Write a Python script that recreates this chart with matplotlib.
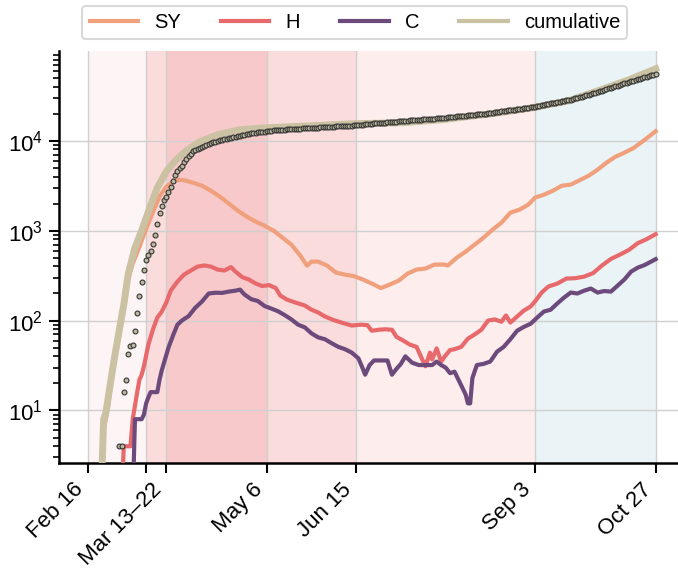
import matplotlib
matplotlib.use("Agg")
import matplotlib.pyplot as plt
import pandas as pd

plt.rcParams['font.family'] = ['Liberation Sans', 'DejaVu Sans']
plt.rcParams['mathtext.default'] = 'regular'
plt.rcParams['font.size'] = 16

# ---- data ----
sy_dates = ['02-22', '02-23', '02-25', '02-27', '03-01', '03-04', '03-07', '03-10', '03-13', '03-16',
            '03-19', '03-22', '03-25', '03-28', '03-31', '04-03', '04-07', '04-11', '04-15', '04-19',
            '04-23', '04-27', '05-01', '05-05', '05-09', '05-13', '05-17', '05-21', '05-24', '05-26',
            '05-29', '06-02', '06-06', '06-10', '06-14', '06-18', '06-22', '06-26', '06-30', '07-04',
            '07-08', '07-12', '07-16', '07-20', '07-24', '07-26', '07-30', '08-03', '08-07', '08-11',
            '08-15', '08-19', '08-23', '08-27', '08-31', '09-03', '09-07', '09-11', '09-15', '09-19',
            '09-23', '09-27', '10-01', '10-05', '10-09', '10-13', '10-17', '10-21', '10-27']
sy_vals = [2, 6, 11, 30, 68, 240, 430, 660, 1050, 1600,
           2390, 3080, 3500, 3690, 3590, 3410, 3160, 2780, 2390, 2000,
           1670, 1430, 1260, 1135, 1000, 836, 698, 527, 408, 453,
           453, 408, 341, 324, 312, 286, 258, 230, 251, 278,
           333, 369, 379, 419, 420, 410, 500, 585, 698, 836,
           1025, 1228, 1585, 1710, 1945, 2330, 2510, 2780, 3160, 3250,
           3640, 4080, 4760, 5700, 6640, 7360, 8260, 9750, 12750]

h_dates = ['03-02', '03-03', '03-06', '03-07', '03-09', '03-10', '03-11', '03-12', '03-14', '03-16',
           '03-18', '03-20', '03-22', '03-24', '03-27', '03-30', '04-02', '04-05', '04-08', '04-11',
           '04-14', '04-17', '04-20', '04-22', '04-25', '04-28', '05-01', '05-04', '05-07', '05-10',
           '05-12', '05-15', '05-19', '05-23', '05-26', '05-29', '06-01', '06-05', '06-09', '06-13',
           '06-17', '06-20', '06-22', '06-25', '06-28', '07-01', '07-03', '07-06', '07-09', '07-12',
           '07-15', '07-16', '07-18', '07-19', '07-21', '07-23', '07-25', '07-27', '07-29', '08-01',
           '08-04', '08-07', '08-10', '08-13', '08-16', '08-19', '08-21', '08-23', '08-26', '08-29',
           '09-01', '09-03', '09-06', '09-09', '09-13', '09-17', '09-21', '09-25', '09-29', '10-03',
           '10-07', '10-11', '10-15', '10-19', '10-23', '10-27']
h_vals = [1, 4, 4, 8, 16, 22, 25, 31, 54, 79,
          108, 126, 158, 215, 271, 325, 360, 398, 410, 398,
          369, 360, 393, 350, 304, 286, 258, 242, 248, 230,
          190, 171, 158, 147, 132, 123, 111, 101, 94, 88,
          90, 89, 77, 79, 80, 79, 66, 60, 54, 51,
          35, 31, 44, 37, 49, 35, 41, 47, 48, 51,
          63, 70, 79, 100, 103, 97, 114, 95, 111, 129,
          143, 163, 205, 239, 258, 293, 296, 308, 337, 410,
          485, 541, 610, 726, 805, 914]

c_dates = ['03-07', '03-08', '03-11', '03-12', '03-13', '03-14', '03-15', '03-18', '03-19', '03-20',
           '03-21', '03-23', '03-25', '03-27', '03-29', '04-01', '04-04', '04-07', '04-10', '04-13',
           '04-16', '04-19', '04-22', '04-24', '04-26', '04-29', '05-02', '05-05', '05-08', '05-11',
           '05-14', '05-17', '05-20', '05-23', '05-26', '05-29', '06-01', '06-04', '06-07', '06-10',
           '06-13', '06-16', '06-18', '06-19', '06-21', '06-23', '06-26', '06-29', '07-01', '07-03',
           '07-05', '07-07', '07-10', '07-13', '07-16', '07-19', '07-21', '07-23', '07-25', '07-27',
           '07-29', '08-01', '08-03', '08-04', '08-05', '08-06', '08-08', '08-11', '08-14', '08-17',
           '08-20', '08-23', '08-26', '08-29', '09-01', '09-04', '09-07', '09-10', '09-13', '09-16',
           '09-19', '09-22', '09-25', '09-28', '10-01', '10-04', '10-07', '10-10', '10-13', '10-16',
           '10-19', '10-22', '10-25', '10-27']
c_vals = [1, 8, 8, 9, 12, 14, 16, 16, 22, 28,
          34, 50, 68, 90, 100, 112, 139, 163, 200, 204,
          203, 210, 215, 221, 195, 173, 165, 145, 136, 127,
          115, 103, 90, 84, 72, 65, 62, 56, 51, 48,
          44, 38, 29, 25, 32, 36, 36, 36, 25, 29,
          33, 40, 34, 32, 32, 32, 35, 32, 30, 26,
          27, 19, 15, 12, 12, 23, 32, 33, 35, 45,
          51, 62, 77, 85, 92, 108, 126, 132, 155, 180,
          205, 200, 215, 227, 205, 213, 210, 245, 286, 350,
          388, 414, 453, 482]

cum_dates = ['02-22', '02-23', '02-24', '02-26', '02-28', '03-01', '03-03', '03-05', '03-08', '03-11',
             '03-14', '03-18', '03-22', '03-26', '03-31', '04-06', '04-14', '04-24', '05-06', '05-27',
             '06-14', '07-05', '07-23', '08-15', '09-02', '09-18', '10-02', '10-15', '10-27']
cum_vals = [1.5, 8, 9.5, 20, 41, 79, 150, 333, 647, 1000,
            1625, 3000, 4530, 5990, 7740, 9750, 11660, 13250, 13950, 14700,
            15450, 15850, 17100, 20000, 23300, 27800, 36500, 47600, 63000]

# observed cumulative, one value per day from Mar 1
obs_start = '2020-03-01'
obs_vals = [4, 4, 16, 22, 43, 52, 54, 77, 120, 186, 271, 362, 468, 541, 589, 717, 903, 1197, 1557, 1896,
            2173, 2368, 2667, 3030, 3530, 4190, 4560, 4970, 5280, 5740, 6260, 6700, 7180, 7610,
            7850, 8090, 8330, 8560, 8800, 9030,
            9250, 9420, 9600, 9780, 9940, 10100, 10250, 10400, 10560, 10700,
            10850, 10990, 11130, 11260, 11400, 11530, 11670, 11800, 11930, 12060, 12200,
            12300, 12390, 12480, 12570, 12650, 12740, 12820, 12910, 13000, 13080, 13170, 13250,
            13290, 13330, 13380, 13420, 13460, 13510, 13550, 13590, 13640, 13680, 13720, 13770, 13810, 13850, 13900,
            13950, 14000, 14050, 14100, 14150, 14200, 14250, 14300, 14350, 14400, 14450, 14500, 14550, 14600,
            14650, 14700, 14750, 14800,
            14880, 14960, 15050, 15130, 15210, 15300, 15380, 15460, 15550, 15630, 15710, 15790, 15870, 15950,
            16040, 16120, 16200,
            16270, 16350, 16420, 16500, 16570, 16650, 16720, 16800, 16870, 16950, 17020, 17100, 17170, 17250,
            17320, 17400, 17470, 17550, 17620, 17700, 17770, 17850,
            17960, 18070, 18180, 18290, 18410, 18520, 18630, 18740, 18850, 18960, 19070, 19190, 19300, 19410,
            19520, 19630, 19740, 19850, 19970, 20080, 20190, 20300,
            20480, 20650, 20830, 21010, 21190, 21360, 21540, 21720, 21890, 22070, 22250, 22430, 22600, 22780,
            22960, 23130, 23310, 23490, 23670,
            23950, 24230, 24520, 24800, 25100, 25400, 25700, 26000, 26300, 26600, 26900, 27200, 27500, 27800,
            28100, 28400, 28700, 29000,
            29500, 30000, 30500, 31000, 31500, 32000, 32550, 33100, 33650, 34200, 34800, 35400, 36000, 36700,
            37500,
            38200, 38900, 39600, 40300, 41000, 41800, 42600, 43400, 44100, 44800, 45600,
            46400, 47300, 48200, 49100, 50000, 50900, 51800, 52700, 53600, 54500, 55500]

phase_edges = ['02-16', '03-13', '03-22', '05-06', '06-15', '09-03', '10-27']
phase_colors = ['#fdf4f5', '#fbdcdc', '#f8c9ca', '#fbdcdc', '#fdeded', '#eaf3f6']

tick_labels = ['Feb 16', '', 'Mar 13\u201322', 'May 6', 'Jun 15', 'Sep 3', 'Oct 27']

colors = {'SY': '#f0a07c', 'H': '#e8696b', 'C': '#6c4a7b', 'cumulative': '#cbc1a3'}


def to_dates(md):
    return pd.to_datetime(['2020-' + d for d in md])


fig = plt.figure(figsize=(6.78, 5.71), dpi=100)
ax = fig.add_axes([0.087, 0.189, 0.913, 0.722])

edges = to_dates(phase_edges)
for i in range(len(phase_colors)):
    ax.axvspan(edges[i], edges[i + 1], color=phase_colors[i], lw=0, zorder=0)

ax.plot(to_dates(sy_dates), sy_vals, color=colors['SY'], lw=3, label='SY', zorder=3)
ax.plot(to_dates(h_dates), h_vals, color=colors['H'], lw=3, label='H', zorder=3)
ax.plot(to_dates(c_dates), c_vals, color=colors['C'], lw=3, label='C', zorder=3)
ax.plot(to_dates(cum_dates), cum_vals, color=colors['cumulative'], lw=5, label='cumulative', zorder=4)

obs_dates = pd.date_range(obs_start, periods=len(obs_vals), freq='D')
ax.plot(obs_dates, obs_vals, ls='none', marker='o', ms=3.5, mfc='#bdb99f', mec='#333333', mew=0.8, zorder=5)

ax.set_yscale('log')
ax.set_ylim(2.6, 1e5)
ax.set_xlim(pd.Timestamp('2020-02-03'), pd.Timestamp('2020-11-06'))

ax.set_xticks(edges)
ax.set_xticklabels(tick_labels, rotation=45, ha='right')
ax.set_yticks([1e1, 1e2, 1e3, 1e4])

ax.set_axisbelow(True)
ax.grid(True, which='major', color='#d0d0d0', lw=1)
ax.grid(False, which='minor')

for s in ['top', 'right']:
    ax.spines[s].set_visible(False)
for s in ['left', 'bottom']:
    ax.spines[s].set_linewidth(1.8)
ax.tick_params(which='major', length=7.5, width=1.5, direction='out', pad=4, labelsize=16)
ax.tick_params(which='minor', length=4.5, width=1.2)

leg = ax.legend(loc='lower center', bbox_to_anchor=(0.478, 1.005), ncol=4, frameon=True,
                fancybox=True, handlelength=2.4, columnspacing=2.0, borderpad=0.35, fontsize=14.5)
leg.get_frame().set_edgecolor('#d0d0d0')
leg.get_frame().set_linewidth(1.5)
for line in leg.get_lines():
    line.set_linewidth(3)

fig.savefig('out.png', dpi=100)
